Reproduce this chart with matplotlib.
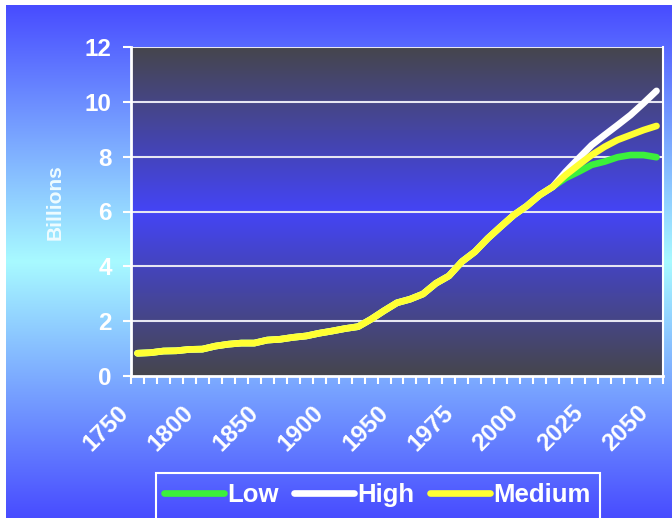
import numpy as np
import matplotlib
matplotlib.use("Agg")
import matplotlib.pyplot as plt
from matplotlib.patches import Rectangle
from matplotlib.transforms import ScaledTranslation

# world population, billions (decades to 1950, then 5-year steps)
years = ["1750", "1760", "1770", "1780", "1790", "1800", "1810", "1820", "1830",
         "1840", "1850", "1860", "1870", "1880", "1890", "1900", "1910", "1920",
         "1930", "1940", "1950", "1955", "1960", "1965", "1970", "1975", "1980",
         "1985", "1990", "1995", "2000", "2005", "2010", "2015", "2020", "2025",
         "2030", "2035", "2040", "2045", "2050"]
tick_years = ["1750", "1800", "1850", "1900", "1950", "1975", "2000", "2025", "2050"]

history = [0.83, 0.85, 0.91, 0.92, 0.97, 0.98, 1.09, 1.16, 1.20, 1.20, 1.31,
           1.34, 1.41, 1.46, 1.56, 1.64, 1.73, 1.80, 2.07, 2.38, 2.67, 2.80,
           2.99, 3.38, 3.65, 4.17, 4.53, 5.02, 5.45, 5.87, 6.20, 6.60, 6.90]
low_proj = [7.22, 7.45, 7.70, 7.82, 7.98, 8.06, 8.06, 7.98]
high_proj = [7.45, 7.94, 8.42, 8.79, 9.15, 9.52, 9.95, 10.40]
medium_proj = [7.33, 7.70, 8.06, 8.36, 8.61, 8.79, 8.97, 9.12]

series = [("Low", history + low_proj, "#3cf03c"),
          ("High", history + high_proj, "#ffffff"),
          ("Medium", history + medium_proj, "#ffff33")]

plt.rcParams["font.family"] = ["Liberation Sans", "DejaVu Sans"]
plt.rcParams["font.weight"] = "bold"

W, H = 672, 518
fig = plt.figure(figsize=(W / 100, H / 100), dpi=100, facecolor="white")


def vgrad(edge, centre, n=400):
    t = np.linspace(0, 1, n)
    f = (1 - np.abs(2 * t - 1))[:, None]
    edge = np.array(edge) / 255.0
    centre = np.array(centre) / 255.0
    return (edge * (1 - f) + centre * f)[:, None, :]


# page background: blue at top and bottom, pale cyan in the middle
bg = fig.add_axes([6 / W, 0, 1 - 6 / W, (H - 5) / H], zorder=-5)
bg.imshow(vgrad((72, 76, 255), (168, 250, 255)), aspect="auto",
          extent=(0, 1, 0, 1), interpolation="bilinear")
bg.axis("off")

ax = fig.add_axes([131 / W, (H - 376) / H, 532 / W, 329 / H])
ax.patch.set_visible(False)
n = len(years)
ax.set_xlim(-0.5, n - 0.5)
ax.set_ylim(0, 12)
ax.imshow(vgrad((70, 70, 76), (68, 68, 246)), aspect="auto",
          extent=(-0.5, n - 0.5, 0, 12), interpolation="bilinear", zorder=0)

for yv in range(2, 13, 2):
    ax.axhline(yv, color="#e6e6f2", lw=1.5, zorder=1)

x = np.arange(n)
handles = []
for name, vals, col in series:
    ln, = ax.plot(x, vals, color=col, lw=4.8, solid_capstyle="round",
                  solid_joinstyle="round", zorder=3, label=name)
    handles.append(ln)

ax.spines["top"].set_visible(False)
for s in ["left", "bottom"]:
    ax.spines[s].set_color("white")
    ax.spines[s].set_linewidth(2)
ax.spines["right"].set_color("white")
ax.spines["right"].set_linewidth(1.5)

ax.set_yticks(range(0, 13, 2))
ax.tick_params(axis="y", colors="white", length=5.5, width=1.5, pad=8.4,
               labelsize=17.5)

ax.set_xticks([years.index(y) for y in tick_years])
ax.set_xticklabels(tick_years, rotation=45, ha="right", va="top")
ax.set_xticks(np.arange(-0.5, n, 1), minor=True)
ax.tick_params(axis="x", which="major", length=0, pad=18, colors="white",
               labelsize=17.5)
ax.tick_params(axis="x", which="minor", length=5.5, width=1.5, colors="white")
shift = ScaledTranslation(-0.04, 0, fig.dpi_scale_trans)
for lbl in ax.get_xticklabels():
    lbl.set_transform(lbl.get_transform() + shift)

fig.text(55.5 / W, 1 - 202 / H, "Billions", rotation=90, ha="center",
         va="center", color="#eefcff", fontsize=15, fontweight="bold")

fig.legend(handles, [h.get_label() for h in handles], ncol=3,
           loc="center left", bbox_to_anchor=(163.5 / W, 1 - 495 / H),
           frameon=False, borderpad=0, borderaxespad=0, fontsize=18.5,
           handlelength=2.35, handletextpad=0.12, columnspacing=0.6,
           labelcolor="white")
fig.add_artist(Rectangle((155.7 / W, -0.05), (600 - 155.7) / W,
                         (H - 473) / H + 0.05, transform=fig.transFigure,
                         fill=False, edgecolor="white", lw=1.5))

fig.savefig("out.png", dpi=100)
